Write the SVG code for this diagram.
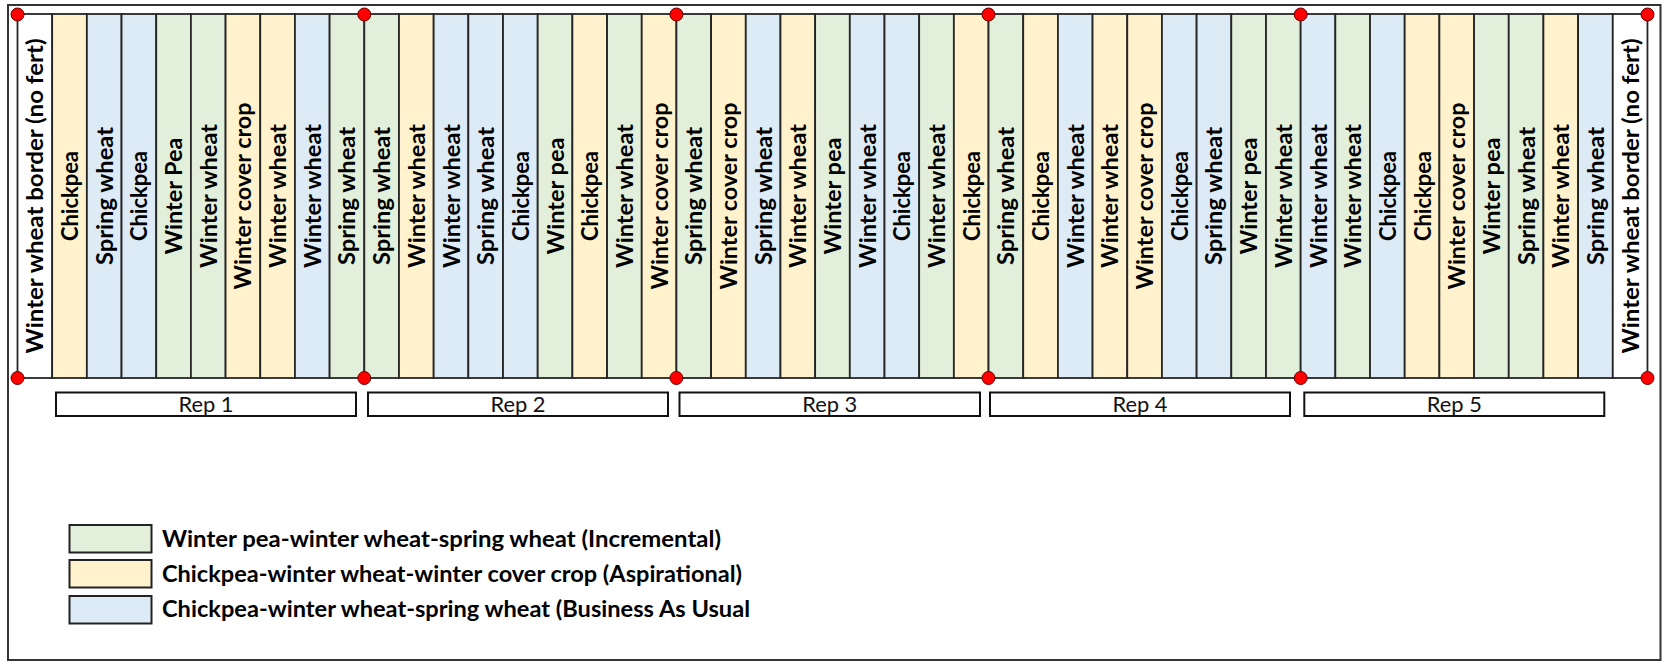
<svg xmlns="http://www.w3.org/2000/svg" width="1663" height="662" viewBox="0 0 1663 662">
<style>
.frame{fill:#fff;stroke:#333;stroke-width:2}
.s{stroke:#262626;stroke-width:1.8}
.G{fill:#E2EFDA}.Y{fill:#FFF2CC}.B{fill:#DDEBF7}.W{fill:#fff}
.lbl{font-family:Lato,"Open Sans",sans-serif;font-weight:bold;font-size:23px;fill:#000;text-anchor:middle}
.rep{fill:#fff;stroke:#111;stroke-width:2}
.rept{font-family:Lato,"Open Sans",sans-serif;font-size:21px;fill:#111;text-anchor:middle}
.dot{fill:#FF0000;stroke:#600;stroke-width:1}
.leg{font-family:Lato,"Open Sans",sans-serif;font-weight:bold;font-size:22px;fill:#000}
.lbox{stroke:#222;stroke-width:2}
</style>
<rect class="frame" x="8" y="5" width="1652.5" height="655"/>
<g id="strips">
<g id="s0"><rect class="s W" x="17.5" y="14" width="34.68" height="364"/><text class="lbl" transform="translate(34.84,196) rotate(-90)" y="8.5" textLength="315" lengthAdjust="spacingAndGlyphs">Winter wheat border (no fert)</text></g>
<g id="s1"><rect class="s Y" x="52.18" y="14" width="34.68" height="364"/><text class="lbl" transform="translate(69.52,196) rotate(-90)" y="8.5" textLength="90" lengthAdjust="spacingAndGlyphs">Chickpea</text></g>
<g id="s2"><rect class="s B" x="86.86" y="14" width="34.68" height="364"/><text class="lbl" transform="translate(104.2,196) rotate(-90)" y="8.5" textLength="138" lengthAdjust="spacingAndGlyphs">Spring wheat</text></g>
<g id="s3"><rect class="s B" x="121.54" y="14" width="34.68" height="364"/><text class="lbl" transform="translate(138.88,196) rotate(-90)" y="8.5" textLength="90" lengthAdjust="spacingAndGlyphs">Chickpea</text></g>
<g id="s4"><rect class="s G" x="156.22" y="14" width="34.68" height="364"/><text class="lbl" transform="translate(173.56,196) rotate(-90)" y="8.5" textLength="117" lengthAdjust="spacingAndGlyphs">Winter Pea</text></g>
<g id="s5"><rect class="s G" x="190.9" y="14" width="34.68" height="364"/><text class="lbl" transform="translate(208.24,196) rotate(-90)" y="8.5" textLength="144" lengthAdjust="spacingAndGlyphs">Winter wheat</text></g>
<g id="s6"><rect class="s Y" x="225.58" y="14" width="34.68" height="364"/><text class="lbl" transform="translate(242.92,196) rotate(-90)" y="8.5" textLength="187" lengthAdjust="spacingAndGlyphs">Winter cover crop</text></g>
<g id="s7"><rect class="s Y" x="260.26" y="14" width="34.68" height="364"/><text class="lbl" transform="translate(277.6,196) rotate(-90)" y="8.5" textLength="144" lengthAdjust="spacingAndGlyphs">Winter wheat</text></g>
<g id="s8"><rect class="s B" x="294.94" y="14" width="34.68" height="364"/><text class="lbl" transform="translate(312.28,196) rotate(-90)" y="8.5" textLength="144" lengthAdjust="spacingAndGlyphs">Winter wheat</text></g>
<g id="s9"><rect class="s G" x="329.62" y="14" width="34.68" height="364"/><text class="lbl" transform="translate(346.96,196) rotate(-90)" y="8.5" textLength="138" lengthAdjust="spacingAndGlyphs">Spring wheat</text></g>
<g id="s10"><rect class="s G" x="364.3" y="14" width="34.68" height="364"/><text class="lbl" transform="translate(381.64,196) rotate(-90)" y="8.5" textLength="138" lengthAdjust="spacingAndGlyphs">Spring wheat</text></g>
<g id="s11"><rect class="s Y" x="398.98" y="14" width="34.68" height="364"/><text class="lbl" transform="translate(416.32,196) rotate(-90)" y="8.5" textLength="144" lengthAdjust="spacingAndGlyphs">Winter wheat</text></g>
<g id="s12"><rect class="s B" x="433.66" y="14" width="34.68" height="364"/><text class="lbl" transform="translate(451,196) rotate(-90)" y="8.5" textLength="144" lengthAdjust="spacingAndGlyphs">Winter wheat</text></g>
<g id="s13"><rect class="s B" x="468.34" y="14" width="34.68" height="364"/><text class="lbl" transform="translate(485.68,196) rotate(-90)" y="8.5" textLength="138" lengthAdjust="spacingAndGlyphs">Spring wheat</text></g>
<g id="s14"><rect class="s B" x="503.02" y="14" width="34.68" height="364"/><text class="lbl" transform="translate(520.36,196) rotate(-90)" y="8.5" textLength="90" lengthAdjust="spacingAndGlyphs">Chickpea</text></g>
<g id="s15"><rect class="s G" x="537.7" y="14" width="34.68" height="364"/><text class="lbl" transform="translate(555.04,196) rotate(-90)" y="8.5" textLength="117" lengthAdjust="spacingAndGlyphs">Winter pea</text></g>
<g id="s16"><rect class="s Y" x="572.38" y="14" width="34.68" height="364"/><text class="lbl" transform="translate(589.72,196) rotate(-90)" y="8.5" textLength="90" lengthAdjust="spacingAndGlyphs">Chickpea</text></g>
<g id="s17"><rect class="s G" x="607.06" y="14" width="34.68" height="364"/><text class="lbl" transform="translate(624.4,196) rotate(-90)" y="8.5" textLength="144" lengthAdjust="spacingAndGlyphs">Winter wheat</text></g>
<g id="s18"><rect class="s Y" x="641.74" y="14" width="34.68" height="364"/><text class="lbl" transform="translate(659.08,196) rotate(-90)" y="8.5" textLength="187" lengthAdjust="spacingAndGlyphs">Winter cover crop</text></g>
<g id="s19"><rect class="s G" x="676.42" y="14" width="34.68" height="364"/><text class="lbl" transform="translate(693.76,196) rotate(-90)" y="8.5" textLength="138" lengthAdjust="spacingAndGlyphs">Spring wheat</text></g>
<g id="s20"><rect class="s Y" x="711.1" y="14" width="34.68" height="364"/><text class="lbl" transform="translate(728.44,196) rotate(-90)" y="8.5" textLength="187" lengthAdjust="spacingAndGlyphs">Winter cover crop</text></g>
<g id="s21"><rect class="s B" x="745.78" y="14" width="34.68" height="364"/><text class="lbl" transform="translate(763.12,196) rotate(-90)" y="8.5" textLength="138" lengthAdjust="spacingAndGlyphs">Spring wheat</text></g>
<g id="s22"><rect class="s Y" x="780.46" y="14" width="34.68" height="364"/><text class="lbl" transform="translate(797.8,196) rotate(-90)" y="8.5" textLength="144" lengthAdjust="spacingAndGlyphs">Winter wheat</text></g>
<g id="s23"><rect class="s G" x="815.14" y="14" width="34.68" height="364"/><text class="lbl" transform="translate(832.48,196) rotate(-90)" y="8.5" textLength="117" lengthAdjust="spacingAndGlyphs">Winter pea</text></g>
<g id="s24"><rect class="s B" x="849.82" y="14" width="34.68" height="364"/><text class="lbl" transform="translate(867.16,196) rotate(-90)" y="8.5" textLength="144" lengthAdjust="spacingAndGlyphs">Winter wheat</text></g>
<g id="s25"><rect class="s B" x="884.5" y="14" width="34.68" height="364"/><text class="lbl" transform="translate(901.84,196) rotate(-90)" y="8.5" textLength="90" lengthAdjust="spacingAndGlyphs">Chickpea</text></g>
<g id="s26"><rect class="s G" x="919.18" y="14" width="34.68" height="364"/><text class="lbl" transform="translate(936.52,196) rotate(-90)" y="8.5" textLength="144" lengthAdjust="spacingAndGlyphs">Winter wheat</text></g>
<g id="s27"><rect class="s Y" x="953.86" y="14" width="34.68" height="364"/><text class="lbl" transform="translate(971.2,196) rotate(-90)" y="8.5" textLength="90" lengthAdjust="spacingAndGlyphs">Chickpea</text></g>
<g id="s28"><rect class="s G" x="988.54" y="14" width="34.68" height="364"/><text class="lbl" transform="translate(1005.88,196) rotate(-90)" y="8.5" textLength="138" lengthAdjust="spacingAndGlyphs">Spring wheat</text></g>
<g id="s29"><rect class="s Y" x="1023.22" y="14" width="34.68" height="364"/><text class="lbl" transform="translate(1040.56,196) rotate(-90)" y="8.5" textLength="90" lengthAdjust="spacingAndGlyphs">Chickpea</text></g>
<g id="s30"><rect class="s B" x="1057.9" y="14" width="34.68" height="364"/><text class="lbl" transform="translate(1075.24,196) rotate(-90)" y="8.5" textLength="144" lengthAdjust="spacingAndGlyphs">Winter wheat</text></g>
<g id="s31"><rect class="s Y" x="1092.58" y="14" width="34.68" height="364"/><text class="lbl" transform="translate(1109.92,196) rotate(-90)" y="8.5" textLength="144" lengthAdjust="spacingAndGlyphs">Winter wheat</text></g>
<g id="s32"><rect class="s Y" x="1127.26" y="14" width="34.68" height="364"/><text class="lbl" transform="translate(1144.6,196) rotate(-90)" y="8.5" textLength="187" lengthAdjust="spacingAndGlyphs">Winter cover crop</text></g>
<g id="s33"><rect class="s B" x="1161.94" y="14" width="34.68" height="364"/><text class="lbl" transform="translate(1179.28,196) rotate(-90)" y="8.5" textLength="90" lengthAdjust="spacingAndGlyphs">Chickpea</text></g>
<g id="s34"><rect class="s B" x="1196.62" y="14" width="34.68" height="364"/><text class="lbl" transform="translate(1213.96,196) rotate(-90)" y="8.5" textLength="138" lengthAdjust="spacingAndGlyphs">Spring wheat</text></g>
<g id="s35"><rect class="s G" x="1231.3" y="14" width="34.68" height="364"/><text class="lbl" transform="translate(1248.64,196) rotate(-90)" y="8.5" textLength="117" lengthAdjust="spacingAndGlyphs">Winter pea</text></g>
<g id="s36"><rect class="s G" x="1265.98" y="14" width="34.68" height="364"/><text class="lbl" transform="translate(1283.32,196) rotate(-90)" y="8.5" textLength="144" lengthAdjust="spacingAndGlyphs">Winter wheat</text></g>
<g id="s37"><rect class="s B" x="1300.66" y="14" width="34.68" height="364"/><text class="lbl" transform="translate(1318,196) rotate(-90)" y="8.5" textLength="144" lengthAdjust="spacingAndGlyphs">Winter wheat</text></g>
<g id="s38"><rect class="s G" x="1335.34" y="14" width="34.68" height="364"/><text class="lbl" transform="translate(1352.68,196) rotate(-90)" y="8.5" textLength="144" lengthAdjust="spacingAndGlyphs">Winter wheat</text></g>
<g id="s39"><rect class="s B" x="1370.02" y="14" width="34.68" height="364"/><text class="lbl" transform="translate(1387.36,196) rotate(-90)" y="8.5" textLength="90" lengthAdjust="spacingAndGlyphs">Chickpea</text></g>
<g id="s40"><rect class="s Y" x="1404.7" y="14" width="34.68" height="364"/><text class="lbl" transform="translate(1422.04,196) rotate(-90)" y="8.5" textLength="90" lengthAdjust="spacingAndGlyphs">Chickpea</text></g>
<g id="s41"><rect class="s Y" x="1439.38" y="14" width="34.68" height="364"/><text class="lbl" transform="translate(1456.72,196) rotate(-90)" y="8.5" textLength="187" lengthAdjust="spacingAndGlyphs">Winter cover crop</text></g>
<g id="s42"><rect class="s G" x="1474.06" y="14" width="34.68" height="364"/><text class="lbl" transform="translate(1491.4,196) rotate(-90)" y="8.5" textLength="117" lengthAdjust="spacingAndGlyphs">Winter pea</text></g>
<g id="s43"><rect class="s G" x="1508.74" y="14" width="34.68" height="364"/><text class="lbl" transform="translate(1526.08,196) rotate(-90)" y="8.5" textLength="138" lengthAdjust="spacingAndGlyphs">Spring wheat</text></g>
<g id="s44"><rect class="s Y" x="1543.42" y="14" width="34.68" height="364"/><text class="lbl" transform="translate(1560.76,196) rotate(-90)" y="8.5" textLength="144" lengthAdjust="spacingAndGlyphs">Winter wheat</text></g>
<g id="s45"><rect class="s B" x="1578.1" y="14" width="34.68" height="364"/><text class="lbl" transform="translate(1595.44,196) rotate(-90)" y="8.5" textLength="138" lengthAdjust="spacingAndGlyphs">Spring wheat</text></g>
<g id="s46"><rect class="s W" x="1612.78" y="14" width="34.68" height="364"/><text class="lbl" transform="translate(1630.12,196) rotate(-90)" y="8.5" textLength="315" lengthAdjust="spacingAndGlyphs">Winter wheat border (no fert)</text></g>
</g>
<g id="markers">
<circle class="dot" cx="17.5" cy="14.5" r="6.5"/><circle class="dot" cx="17.5" cy="378" r="6.5"/>
<circle class="dot" cx="364.3" cy="14.5" r="6.5"/><circle class="dot" cx="364.3" cy="378" r="6.5"/>
<circle class="dot" cx="676.4" cy="14.5" r="6.5"/><circle class="dot" cx="676.4" cy="378" r="6.5"/>
<circle class="dot" cx="988.5" cy="14.5" r="6.5"/><circle class="dot" cx="988.5" cy="378" r="6.5"/>
<circle class="dot" cx="1300.7" cy="14.5" r="6.5"/><circle class="dot" cx="1300.7" cy="378" r="6.5"/>
<circle class="dot" cx="1647.5" cy="14.5" r="6.5"/><circle class="dot" cx="1647.5" cy="378" r="6.5"/>
</g>
<g id="reps">
<g id="rep1"><rect class="rep" x="56" y="392.5" width="300" height="23.5"/><text class="rept" x="206" y="412" textLength="55" lengthAdjust="spacingAndGlyphs">Rep 1</text></g>
<g id="rep2"><rect class="rep" x="368" y="392.5" width="300" height="23.5"/><text class="rept" x="518" y="412" textLength="55" lengthAdjust="spacingAndGlyphs">Rep 2</text></g>
<g id="rep3"><rect class="rep" x="679.5" y="392.5" width="300.5" height="23.5"/><text class="rept" x="829.7" y="412" textLength="55" lengthAdjust="spacingAndGlyphs">Rep 3</text></g>
<g id="rep4"><rect class="rep" x="990" y="392.5" width="300" height="23.5"/><text class="rept" x="1140" y="412" textLength="55" lengthAdjust="spacingAndGlyphs">Rep 4</text></g>
<g id="rep5"><rect class="rep" x="1304.3" y="392.5" width="300" height="23.5"/><text class="rept" x="1454.3" y="412" textLength="55" lengthAdjust="spacingAndGlyphs">Rep 5</text></g>
</g>
<g id="legend">
<g id="leg1"><rect class="lbox G" x="69.5" y="525" width="82" height="27.5"/><text class="leg" x="162" y="547" textLength="559" lengthAdjust="spacingAndGlyphs">Winter pea-winter wheat-spring wheat (Incremental)</text></g>
<g id="leg2"><rect class="lbox Y" x="69.5" y="560" width="82" height="27.5"/><text class="leg" x="162" y="582" textLength="580" lengthAdjust="spacingAndGlyphs">Chickpea-winter wheat-winter cover crop (Aspirational)</text></g>
<g id="leg3"><rect class="lbox B" x="69.5" y="596" width="82" height="27.5"/><text class="leg" x="162" y="617" textLength="588" lengthAdjust="spacingAndGlyphs">Chickpea-winter wheat-spring wheat (Business As Usual</text></g>
</g>
</svg>
